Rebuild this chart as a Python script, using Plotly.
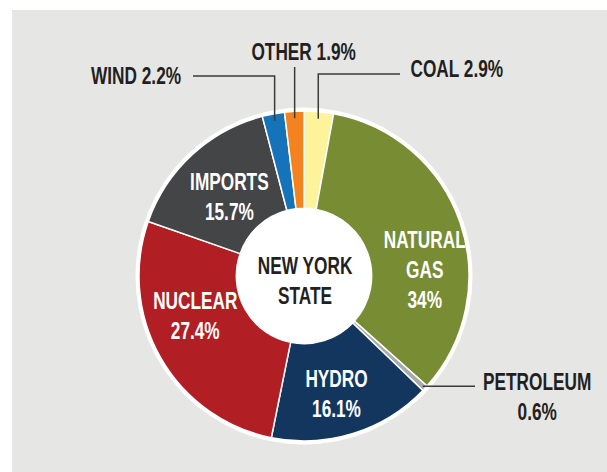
import math
import plotly.graph_objects as go

# data, clockwise from 12 o'clock
sources = ["COAL", "NATURAL GAS", "PETROLEUM", "HYDRO", "NUCLEAR", "IMPORTS", "WIND", "OTHER"]
shares = [2.9, 34, 0.6, 16.1, 27.4, 15.7, 2.2, 1.9]
colors = ["#FDF39B", "#778C33", "#A8A9AB", "#13365E", "#B11E24", "#444547", "#1473B9", "#F3821F"]
center_text = "NEW YORK<br>STATE"

W, H = 607, 472
CX, CY, R = 304, 276, 165
FONT = "Liberation Sans, Arial, sans-serif"
FSIZE = 23

# label placement (pixel centres): inside labels stacked, outside ones get leader lines
inside_pos = {
    "NATURAL GAS": (424, 270),
    "HYDRO": (337, 394),
    "NUCLEAR": (196, 316),
    "IMPORTS": (229, 197),
}
outside_pos = {
    "WIND": (136, 76, False),
    "OTHER": (303, 52, False),
    "COAL": (457, 69, False),
    "PETROLEUM": (537, 397, True),
}


def px(x):
    return x / W


def py(y):
    return 1 - y / H


def pct(v):
    return f"{v:g}%"


# slice mid-angles (clockwise from top)
total = sum(shares)
mid = {}
acc = 0
for s, v in zip(sources, shares):
    mid[s] = (acc + v / 2) / total * 360
    acc += v


def slice_point(name, r):
    a = math.radians(mid[name])
    return CX + r * math.sin(a), CY - r * math.cos(a)


fig = go.Figure(go.Pie(
    labels=sources,
    values=shares,
    marker=dict(colors=colors, line=dict(color="white", width=1.5)),
    sort=False,
    direction="clockwise",
    rotation=0,
    hole=0.41,
    textinfo="none",
    hoverinfo="label+value",
    showlegend=False,
    domain=dict(x=[px(CX - R), px(CX + R)], y=[py(CY + R), py(CY - R)]),
))

shapes = [
    dict(type="rect", xref="paper", yref="paper", x0=px(12), x1=1, y0=0, y1=py(10),
         fillcolor="#E6E6E4", line=dict(width=0), layer="below"),
    dict(type="circle", xref="paper", yref="paper",
         x0=px(CX - R - 3.5), x1=px(CX + R + 3.5), y0=py(CY + R + 3.5), y1=py(CY - R - 3.5),
         fillcolor="white", line=dict(width=0), layer="below"),
]

# leader lines
line_style = dict(color="#3A3A3A", width=1.5)
xw, yw = slice_point("WIND", 158)
xo, yo = slice_point("OTHER", 158)
xc, yc = slice_point("COAL", 158)
xp, yp = slice_point("PETROLEUM", 162)
paths = [
    [(193, 76), (xw, 76), (xw, yw)],
    [(xo, 67), (xo, yo)],
    [(400, 74), (xc, 74), (xc, yc)],
    [(xp, yp), (475, yp)],
]
for pts in paths:
    d = "M " + " L ".join(f"{px(x):.5f},{py(y):.5f}" for x, y in pts)
    shapes.append(dict(type="path", xref="paper", yref="paper", path=d, line=line_style))

annotations = []
for s, v in zip(sources, shares):
    if s in inside_pos:
        x, y = inside_pos[s]
        text = s.replace(" ", "<br>") + "<br>" + pct(v)
        color = "white"
    else:
        x, y, stack = outside_pos[s]
        text = s + ("<br>" if stack else " ") + pct(v)
        color = "#231F20"
    annotations.append(dict(
        x=px(x), y=py(y), xref="paper", yref="paper", showarrow=False, text=text,
        font=dict(family=FONT, size=FSIZE, color=color, weight="bold"),
        xanchor="center", yanchor="middle", align="center"))

annotations.append(dict(
    x=px(CX + 1), y=py(281), xref="paper", yref="paper", showarrow=False,
    text=center_text,
    font=dict(family=FONT, size=FSIZE, color="#231F20", weight="bold"),
    xanchor="center", yanchor="middle", align="center"))

fig.update_layout(
    width=W, height=H,
    margin=dict(l=0, r=0, t=0, b=0),
    paper_bgcolor="white",
    plot_bgcolor="white",
    shapes=shapes,
    annotations=annotations,
)

# no page margin; squeeze the labels into a condensed look
post = """
document.body.style.margin = '0';
var st = document.createElement('style');
st.textContent = '.annotation-text{transform-box:fill-box;transform-origin:center;transform:scaleX(0.75);}';
document.head.appendChild(st);
"""
fig.write_html("out.html", post_script=post, config={"displayModeBar": False})
